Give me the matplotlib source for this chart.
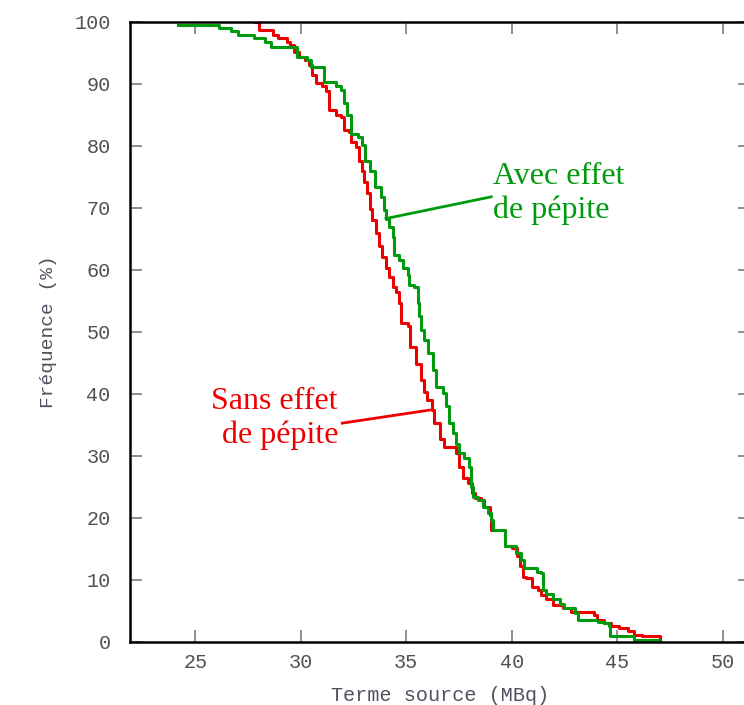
import matplotlib
matplotlib.use("Agg")
import matplotlib.pyplot as plt

# courbe "avec effet de pepite" (x en MBq, frequence en %)
avec_x = [24.2, 26.1, 26.7, 27.0, 27.8, 28.3, 28.6, 29.8, 30.3, 30.5,
          31.1, 31.65, 31.9, 32.05, 32.2, 32.4, 32.7, 32.9, 33.05, 33.3,
          33.5, 33.8, 33.95, 34.04, 34.2, 34.35, 34.43, 34.67, 34.83, 35.07,
          35.15, 35.38, 35.54, 35.62, 35.7, 35.86, 36.02, 36.26, 36.41, 36.73,
          36.89, 37.05, 37.2, 37.37, 37.5, 37.76, 38.0, 38.08, 38.16, 38.4,
          38.64, 38.88, 39.03, 39.1, 39.67, 40.2, 40.45, 40.6, 41.2, 41.4,
          41.5, 41.65, 41.97, 42.3, 42.5, 43.0, 43.16, 44.1, 44.4, 44.6,
          44.67, 45.78, 46.97]
avec_y = [99.5, 99.0, 98.5, 97.9, 97.4, 96.8, 95.9, 94.4, 93.9, 92.8,
          90.4, 89.6, 89.0, 86.9, 85.0, 82.0, 81.5, 80.2, 77.5, 75.9,
          73.4, 71.8, 69.7, 68.3, 67.0, 65.4, 62.4, 61.6, 60.3, 59.2,
          57.6, 57.3, 54.6, 52.5, 50.3, 48.7, 46.6, 43.9, 41.2, 40.1,
          38.0, 35.3, 33.7, 32.0, 30.4, 29.6, 28.3, 25.0, 23.4, 22.9,
          21.8, 20.8, 19.7, 18.1, 15.5, 14.3, 13.2, 11.9, 11.3, 11.1,
          8.4, 7.8, 7.0, 6.2, 5.4, 4.6, 3.5, 3.3, 3.0, 2.5,
          0.9, 0.3, 0.3]

# courbe "sans effet de pepite"
sans_x = [27.85, 28.0, 28.7, 28.9, 29.35, 29.5, 29.7, 29.9, 30.2, 30.4,
          30.55, 30.7, 31.0, 31.2, 31.35, 31.65, 31.9, 32.05, 32.3, 32.37,
          32.6, 32.76, 32.9, 33.0, 33.16, 33.3, 33.4, 33.56, 33.7, 33.87,
          34.03, 34.2, 34.35, 34.5, 34.67, 34.75, 35.07, 35.2, 35.45, 35.7,
          35.86, 36.0, 36.2, 36.34, 36.58, 36.8, 37.37, 37.5, 37.7, 37.93,
          38.1, 38.25, 38.56, 38.7, 38.95, 39.03, 39.67, 40.0, 40.23, 40.4,
          40.55, 40.7, 40.95, 41.26, 41.4, 41.65, 41.97, 42.45, 42.8, 43.9,
          44.07, 44.4, 44.7, 45.1, 45.5, 45.78, 46.17, 47.05]
sans_y = [100.0, 98.7, 97.9, 97.4, 96.8, 96.3, 95.2, 94.4, 93.9, 93.1,
          91.5, 90.1, 89.6, 88.8, 85.8, 85.0, 84.7, 82.6, 82.3, 80.7,
          79.9, 77.5, 75.9, 74.2, 72.4, 69.9, 68.1, 65.9, 63.8, 62.1,
          60.3, 58.9, 57.3, 56.5, 54.6, 51.4, 50.9, 47.6, 44.9, 42.3,
          40.4, 39.0, 37.4, 35.3, 32.8, 31.5, 30.4, 28.3, 26.4, 25.6,
          24.0, 23.2, 22.9, 21.8, 20.5, 18.1, 15.4, 15.1, 13.8, 12.2,
          10.5, 10.3, 8.9, 8.4, 7.6, 7.0, 6.0, 5.4, 4.9, 4.4,
          3.5, 3.0, 2.5, 2.2, 1.7, 1.1, 0.9, 0.3]

x_ticks = [25, 30, 35, 40, 45, 50]
y_ticks = [0, 10, 20, 30, 40, 50, 60, 70, 80, 90, 100]

GREEN = "#009a0e"
RED = "#ee0000"
TICK_COL = "#505050"

fig = plt.figure(figsize=(7.44, 7.05), dpi=100)
ax = fig.add_axes([0.1747, 0.0894, 0.8333, 0.8794])

ax.step(sans_x, sans_y, where="post", color=RED, lw=2.2)
ax.step(avec_x, avec_y, where="post", color=GREEN, lw=2.2)

ax.set_xlim(21.9, 51.3)
ax.set_ylim(0, 100)
ax.set_xticks(x_ticks)
ax.set_yticks(y_ticks)

for s in ax.spines.values():
    s.set_linewidth(1.8)
    s.set_color("black")

ax.tick_params(direction="in", length=8.5, width=1.1, color="#707070",
               top=True, right=True, labelsize=14.5, labelcolor=TICK_COL)
ax.tick_params(axis="y", pad=14)
ax.tick_params(axis="x", pad=8)
for lab in ax.get_xticklabels() + ax.get_yticklabels():
    lab.set_family("Liberation Mono")

ax.set_xlabel("Terme source (MBq)", family="Liberation Mono", fontsize=14.5,
              color="#505060", labelpad=10)
ax.set_ylabel("Fréquence (%)", family="Liberation Mono", fontsize=14,
              color="#505060", labelpad=12)

# annotations
ax.plot([34.04, 39.03], [68.3, 71.8], color=GREEN, lw=2)
ax.text(39.13, 72.3, "Avec effet\nde pépite", color=GREEN, fontsize=23,
        family="Liberation Serif", ha="left", va="center", linespacing=1.2)

ax.plot([31.97, 36.1], [35.3, 37.4], color=RED, lw=2)
ax.text(31.77, 36.0, "Sans effet\nde pépite", color=RED, fontsize=23,
        family="Liberation Serif", ha="right", va="center", ma="right",
        linespacing=1.2)

plt.savefig("out.png", dpi=100)
